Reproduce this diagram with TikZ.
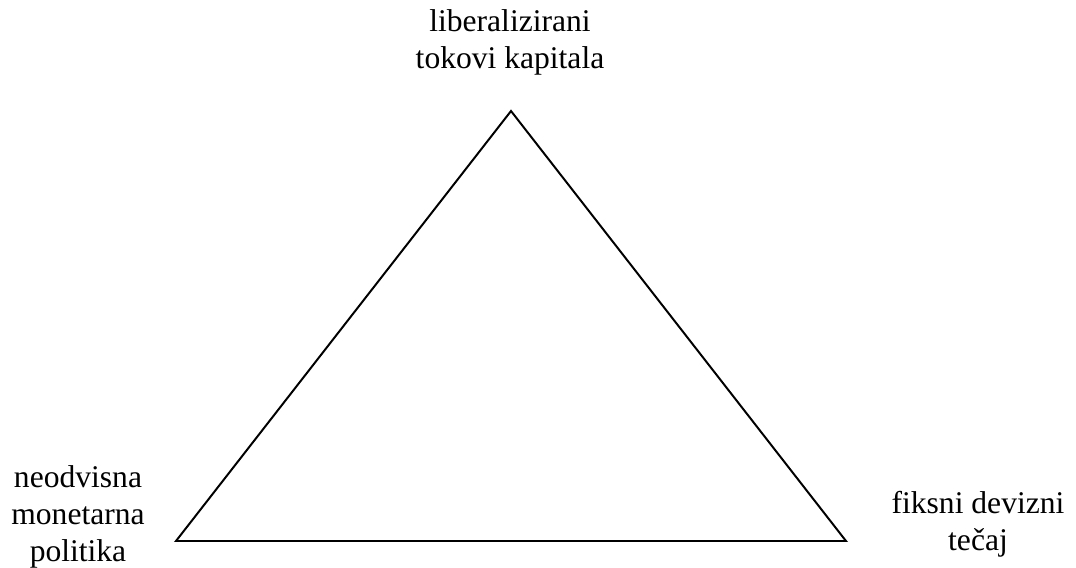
\documentclass[tikz,border=0pt]{standalone}
\usepackage{fontspec}
\setmainfont{Liberation Serif}
\usetikzlibrary{positioning}
\tikzset{
  corner/.style={font=\fontsize{12}{14}\selectfont,align=center,inner sep=0pt,anchor=base},
}
\begin{document}
\begin{tikzpicture}[x=0.38pt,y=-0.38pt]
  % Page frame (pixel units)
  \useasboundingbox (0,0) rectangle (1076,567);
  % Triangle corners
  \coordinate (apex) at (511,111);
  \coordinate (left) at (176,541);
  \coordinate (right) at (846,541);
  \draw[line width=0.75pt,line join=miter] (apex) -- (left) -- (right) -- cycle;
  % Labels (anchored on the baseline of their last line)
  \node[corner] (capital) at (510,68) {liberalizirani\\tokovi kapitala};
  \node[corner] (monetary) at (78,561) {neodvisna\\monetarna\\politika};
  \node[corner] (exchange) at (978,550) {fiksni devizni\\tečaj};
\end{tikzpicture}
\end{document}
